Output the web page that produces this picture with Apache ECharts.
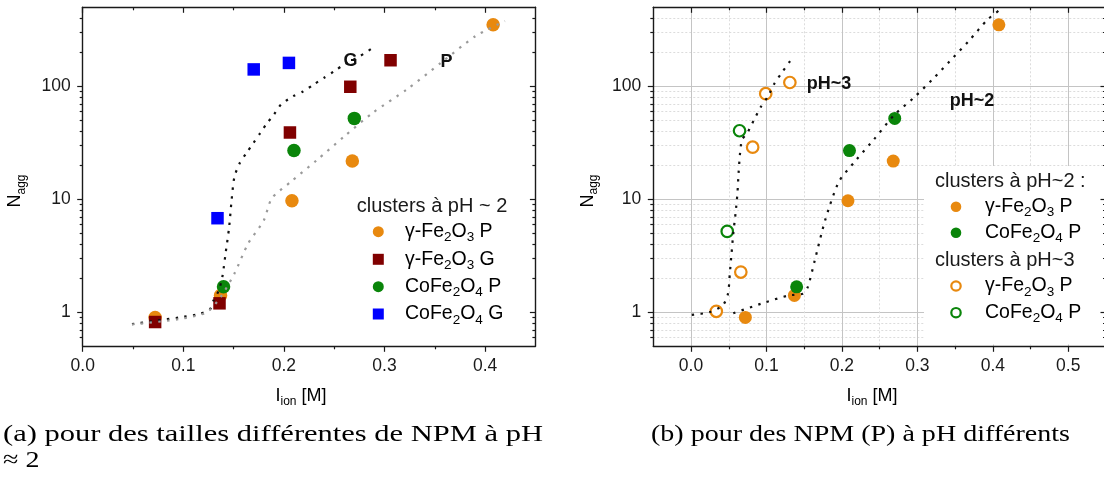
<!DOCTYPE html>
<html><head><meta charset="utf-8">
<script src="https://cdn.jsdelivr.net/npm/echarts@6/dist/echarts.min.js"></script>
<style>html,body{margin:0;padding:0;background:#fff}#c{width:1104px;height:484px}</style>
</head><body><div id="c"></div>
<script>
// ---------- data ----------
// panel (a): clusters at pH ~ 2, different NPM sizes
const gFeP_a = [[0.072,0.90],[0.137,1.41],[0.208,9.7],[0.268,21.8],[0.408,350]];
const gFeG_a = [[0.072,0.82],[0.136,1.2],[0.206,39],[0.266,99],[0.306,170]];
const coP_a  = [[0.140,1.68],[0.210,27],[0.270,52]];
const coG_a  = [[0.134,6.8],[0.170,141],[0.205,161]];
const curveG_a = [[0.049,0.787],[0.072,0.84],[0.096,0.90],[0.1165,0.97],[0.1267,1.07],[0.130,1.27],[0.1353,1.56],[0.1388,2.05],[0.142,3.3],[0.1456,5.7],[0.148,9.8],[0.1508,15.8],[0.156,20.8],[0.1627,25.6],[0.1696,31.4],[0.1765,38.5],[0.1833,47.3],[0.190,56],[0.197,68.8],[0.209,81.5],[0.219,90],[0.2295,103.5],[0.240,119],[0.250,136],[0.260,156],[0.2757,185],[0.287,215]];
const curveP_a = [[0.049,0.78],[0.096,0.87],[0.1233,1.0],[0.137,1.36],[0.1508,2.2],[0.1644,4.05],[0.180,6.5],[0.188,10.2],[0.207,14.3],[0.233,22.3],[0.260,36],[0.288,58],[0.322,93.5],[0.356,161],[0.3905,278],[0.4197,378]];
// panel (b): NPM (P) at different pH
const gFeP_pH2 = [[0.072,0.90],[0.137,1.41],[0.208,9.7],[0.268,21.8],[0.408,350]];
const coP_pH2  = [[0.140,1.68],[0.210,27],[0.270,52]];
const gFeP_pH3 = [[0.0335,1.02],[0.066,2.27],[0.0817,28.9],[0.099,86],[0.131,108]];
const coP_pH3  = [[0.048,5.2],[0.0643,40.4]];
const curve_pH3 = [[0.001,0.95],[0.024,1.0],[0.042,1.15],[0.049,1.46],[0.0514,2.2],[0.0537,3.3],[0.056,5.0],[0.059,7.5],[0.0615,11.3],[0.063,17],[0.065,25.6],[0.0675,33.6],[0.0744,38.5],[0.0836,50.6],[0.0927,66],[0.102,81.5],[0.111,107],[0.120,131],[0.133,173]];
const curve_pH2 = [[0.056,0.98],[0.0927,1.19],[0.1295,1.41],[0.148,1.46],[0.1547,1.67],[0.164,2.88],[0.1777,6.5],[0.196,14.3],[0.219,22.3],[0.242,33.6],[0.2696,56],[0.2948,78.7],[0.320,115],[0.343,167],[0.368,251],[0.3935,392],[0.414,500]];
// ticks
const xMajorA = [0, 0.1, 0.2, 0.3, 0.4];
const xMinorA = [0.05, 0.15, 0.25, 0.35];
const xMajorB = [0, 0.1, 0.2, 0.3, 0.4, 0.5];
const xMinorB = [0.05, 0.15, 0.25, 0.35, 0.45];
const yMajor = [1, 10, 100];
const yMinor = [0.6,0.7,0.8,0.9,2,3,4,5,6,7,8,9,20,30,40,50,60,70,80,90,200,300,400];
// legend entries
const legendA = ['γ-Fe2O3 P','γ-Fe2O3 G','CoFe2O4 P','CoFe2O4 G'];
const legendB2 = ['γ-Fe2O3 P','CoFe2O4 P'];
const legendB3 = ['γ-Fe2O3 P','CoFe2O4 P'];

// ---------- styling ----------
const SANS = '"Liberation Sans", Arial, sans-serif';
const INK = '#1a1a1a';
const ORANGE = '#E8890F', WINE = '#800000', GREEN = '#0A850A', BLUE = '#0000FF';
const GRID_TOP = 7.3, GRID_H = 339, GRID_W = 452.7;

function xAxes(gi, min, max, majors, minors, withGrid) {
  const line = {lineStyle:{color:INK,width:1.4}};
  const tick = (vals,len,inside)=>({show:true,customValues:vals,length:len,inside:inside,lineStyle:{color:INK,width:1.2}});
  return [
    {type:'value',gridIndex:gi,position:'bottom',min,max,axisLine:Object.assign({show:true,onZero:false},line),
     axisTick:tick(majors,5.5,false),
     axisLabel:{show:true,customValues:majors,margin:11,fontSize:17.5,fontFamily:SANS,color:INK,formatter:v=>Number(v).toFixed(1)},
     splitLine:{show:withGrid,lineStyle:{color:'#c4c4c4',width:1}}},
    {type:'value',gridIndex:gi,position:'bottom',min,max,axisLine:{show:false,onZero:false},
     axisTick:tick(minors,3,false),axisLabel:{show:false},
     splitLine:{show:withGrid,lineStyle:{color:'#dcdcdc',width:1,type:[2,2]}}},
    {type:'value',gridIndex:gi,position:'top',min,max,axisLine:Object.assign({show:true,onZero:false},line),
     axisTick:tick(majors,5.5,true),axisLabel:{show:false},splitLine:{show:false}},
    {type:'value',gridIndex:gi,position:'top',min,max,axisLine:{show:false,onZero:false},
     axisTick:tick(minors,3,true),axisLabel:{show:false},splitLine:{show:false}}
  ];
}
function yAxes(gi, withGrid, rightZ) {
  const base = {type:'log',logBase:10,gridIndex:gi,min:0.5,max:500};
  const line = {lineStyle:{color:INK,width:1.4}};
  const tick = (vals,len,inside)=>({show:true,customValues:vals,length:len,inside:inside,lineStyle:{color:INK,width:1.2}});
  return [
    Object.assign({},base,{position:'left',axisLine:Object.assign({show:true,onZero:false},line),
      axisTick:tick(yMajor,5.5,false),
      axisLabel:{show:true,customValues:yMajor,margin:12,fontSize:17.5,fontFamily:SANS,color:INK,formatter:v=>String(Math.round(v))},
      splitLine:{show:withGrid,lineStyle:{color:'#c4c4c4',width:1}}}),
    Object.assign({},base,{position:'left',axisLine:{show:false,onZero:false},axisTick:tick(yMinor,3,false),axisLabel:{show:false},
      splitLine:{show:withGrid,lineStyle:{color:'#dcdcdc',width:1,type:[2,2]}}}),
    Object.assign({},base,{position:'right',z:rightZ,axisLine:Object.assign({show:true,onZero:false},line),
      axisTick:tick(yMajor,5.5,true),axisLabel:{show:false},splitLine:{show:false}}),
    Object.assign({},base,{position:'right',z:rightZ,axisLine:{show:false,onZero:false},
      axisTick:tick(yMinor,3,true),axisLabel:{show:false},splitLine:{show:false}})
  ];
}

function chem(label) {
  const parts = label.split(/(\d)/).filter(p=>p.length>0);
  return parts.map(p=>/^\d$/.test(p) ? '{s|'+p+'}' : '{n|'+p+'}').join('');
}
const legendRich = {
  n:{fontSize:19.5,lineHeight:24,fontFamily:SANS,color:INK},
  s:{fontSize:13.5,lineHeight:12,padding:[12,0,0,0],fontFamily:SANS,color:INK}
};
const axisRich = {
  n:{fontSize:18,lineHeight:24,fontFamily:SANS,color:INK},
  s:{fontSize:12,lineHeight:12,padding:[12,0,0,0],fontFamily:SANS,color:INK}
};

function scatter(name, data, xi, yi, color, symbol, size, open) {
  return {type:'scatter',name,data,xAxisIndex:xi,yAxisIndex:yi,symbol,symbolSize:size,z:2,
    itemStyle: open ? {color:'#ffffff',borderColor:color,borderWidth:2.2,opacity:1} : {color,opacity:1}};
}
function curve(data, xi, yi, color) {
  return {type:'line',data,xAxisIndex:xi,yAxisIndex:yi,symbol:'none',showSymbol:false,smooth:0.25,z:3,silent:true,
    lineStyle:{color,width:2.2,type:[2.4,6.4]}};
}

// legend drawn as graphic: symbol + rich text per entry
function legendItems(labels, specs, symX, textX, rowsY) {
  const out = [];
  labels.forEach((lab, i) => {
    const sp = specs[i], y = rowsY[i];
    if (sp.shape === 'rect') {
      out.push({type:'rect',z:10,shape:{x:symX-sp.size/2,y:y-sp.size/2,width:sp.size,height:sp.size},style:{fill:sp.color}});
    } else if (sp.open) {
      out.push({type:'circle',z:10,shape:{cx:symX,cy:y,r:sp.size/2},style:{fill:'#fff',stroke:sp.color,lineWidth:2.2}});
    } else {
      out.push({type:'circle',z:10,shape:{cx:symX,cy:y,r:sp.size/2},style:{fill:sp.color}});
    }
    out.push({type:'text',z:10,x:textX,y:y,style:{text:chem(lab),align:'left',verticalAlign:'middle',rich:legendRich}});
  });
  return out;
}
const titleStyle = {fontSize:20,fontFamily:SANS,fill:INK};
const labelStyle = (t)=>({text:t,align:'center',verticalAlign:'middle',fontSize:18,fontWeight:'bold',fontFamily:SANS,fill:'#111'});

// caption width fitting (LaTeX caption is wider / justified)
const mctx = document.createElement('canvas').getContext('2d');
function fitScale(text, font, target) { mctx.font = font; return target / mctx.measureText(text).width; }
const CAP_FONT = '24px "Liberation Serif"';
const capA = '(a) pour des tailles différentes de NPM à pH';
const capA2 = '≈ 2';
const capB = '(b) pour des NPM (P) à pH différents';
const sA = fitScale(capA, CAP_FONT, 540);
const sB = fitScale(capB, CAP_FONT, 419);

const chart = echarts.init(document.getElementById('c'), null, {renderer:'canvas'});
chart.setOption({
  animation:false,
  backgroundColor:'#ffffff',
  grid:[
    {left:82.7,top:GRID_TOP,width:GRID_W,height:GRID_H,outerBoundsMode:'none',containLabel:false},
    {left:653.3,top:GRID_TOP,width:GRID_W,height:GRID_H,outerBoundsMode:'none',containLabel:false}
  ],
  xAxis:[].concat(xAxes(0,0,0.45,xMajorA,xMinorA,false), xAxes(1,-0.05,0.55,xMajorB,xMinorB,true)),
  yAxis:[].concat(yAxes(0,false,0), yAxes(1,true,6)),
  series:[
    scatter('γ-Fe2O3 P (a)', gFeP_a, 0,0, ORANGE,'circle',13.5,false),
    scatter('γ-Fe2O3 G (a)', gFeG_a, 0,0, WINE,'rect',12.5,false),
    scatter('CoFe2O4 P (a)', coP_a, 0,0, GREEN,'circle',13.5,false),
    scatter('CoFe2O4 G (a)', coG_a, 0,0, BLUE,'rect',12.5,false),
    curve(curveG_a,0,0,'#111111'),
    curve(curveP_a,0,0,'#9a9a9a'),
    scatter('γ-Fe2O3 P pH~2', gFeP_pH2, 4,4, ORANGE,'circle',13,false),
    scatter('CoFe2O4 P pH~2', coP_pH2, 4,4, GREEN,'circle',13,false),
    scatter('γ-Fe2O3 P pH~3', gFeP_pH3, 4,4, ORANGE,'circle',11.5,true),
    scatter('CoFe2O4 P pH~3', coP_pH3, 4,4, GREEN,'circle',11.5,true),
    curve(curve_pH3,4,4,'#111111'),
    curve(curve_pH2,4,4,'#111111')
  ],
  graphic:[].concat(
    [{type:'rect',z:3,shape:{x:924,y:166,width:182,height:178.5},style:{fill:'#ffffff'}},
     {type:'text',z:10,x:356.7,y:206.7,style:Object.assign({text:'clusters à pH ~ 2',align:'left',verticalAlign:'middle'},titleStyle)},
     {type:'text',z:10,x:935,y:181.7,style:Object.assign({text:'clusters à pH~2 :',align:'left',verticalAlign:'middle'},titleStyle)},
     {type:'text',z:10,x:935,y:260,style:Object.assign({text:'clusters à pH~3',align:'left',verticalAlign:'middle'},titleStyle)}],
    legendItems(legendA,[{color:ORANGE,size:11},{color:WINE,size:11,shape:'rect'},{color:GREEN,size:11},{color:BLUE,size:11,shape:'rect'}],
      378.3, 405, [231.7,259.3,286.7,314]),
    legendItems(legendB2,[{color:ORANGE,size:10.6},{color:GREEN,size:10.6}], 956, 985, [206.7,232.7]),
    legendItems(legendB3,[{color:ORANGE,size:9.4,open:true},{color:GREEN,size:9.4,open:true}], 956, 985, [286,312.7]),
    [{type:'text',z:10,x:350.6,y:60.7,style:labelStyle('G')},
     {type:'text',z:10,x:446.6,y:61.7,style:labelStyle('P')},
     {type:'text',z:10,x:829,y:84,style:labelStyle('pH~3')},
     {type:'text',z:10,x:972,y:100.7,style:labelStyle('pH~2')},
     {type:'text',z:10,x:15.5,y:191,rotation:Math.PI/2,style:{text:'{n|N}{s|agg}',align:'center',verticalAlign:'middle',rich:axisRich}},
     {type:'text',z:10,x:588,y:191,rotation:Math.PI/2,style:{text:'{n|N}{s|agg}',align:'center',verticalAlign:'middle',rich:axisRich}},
     {type:'text',z:10,x:301,y:396,style:{text:'{n|I}{s|ion}{n| [M]}',align:'center',verticalAlign:'middle',rich:axisRich}},
     {type:'text',z:10,x:872,y:396,style:{text:'{n|I}{s|ion}{n| [M]}',align:'center',verticalAlign:'middle',rich:axisRich}},
     {type:'text',z:10,x:3,y:435,scaleX:sA,style:{text:capA,align:'left',verticalAlign:'middle',font:CAP_FONT,fill:'#000'}},
     {type:'text',z:10,x:3,y:461,scaleX:sB,style:{text:capA2,align:'left',verticalAlign:'middle',font:CAP_FONT,fill:'#000'}},
     {type:'text',z:10,x:651,y:435,scaleX:sB,style:{text:capB,align:'left',verticalAlign:'middle',font:CAP_FONT,fill:'#000'}}]
  )
});
</script>
</body></html>
